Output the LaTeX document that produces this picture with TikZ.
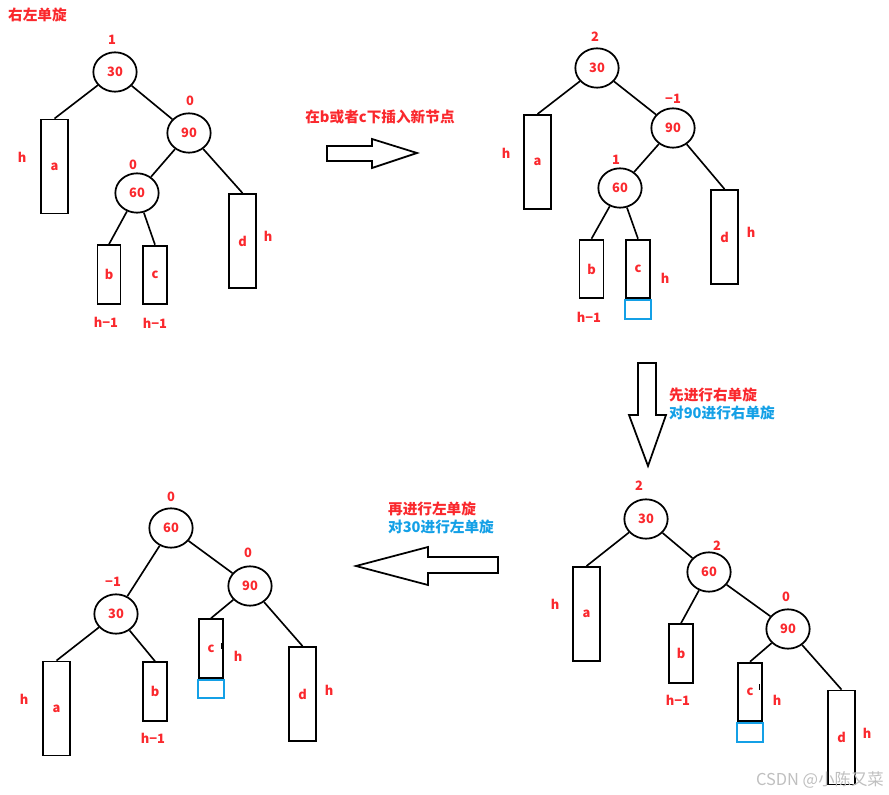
\documentclass[tikz,border=0pt]{standalone}
\usepackage{fontspec}
\setmainfont{Noto Sans CJK SC}
\usetikzlibrary{shapes.geometric}
\definecolor{mred}{RGB}{250,40,45}
\definecolor{mblue}{RGB}{20,160,230}
\tikzset{
  key/.style={ellipse,draw,line width=1.5pt,minimum width=1.3cm,minimum height=1.18cm,inner sep=0pt,text=mred,font=\fontsize{11}{13}\selectfont\bfseries},
  sub/.style={draw,line width=1.6pt,inner sep=0pt,text=mred,font=\fontsize{11}{13}\selectfont\bfseries},
  tall/.style={sub,minimum width=0.83cm,minimum height=2.82cm},
  short/.style={sub,minimum width=0.72cm,minimum height=1.76cm},
  ins/.style={draw=mblue,line width=1.5pt,minimum width=0.78cm,minimum height=0.56cm,inner sep=0pt,anchor=north},
  lab/.style={text=mred,font=\fontsize{11}{13}\selectfont\bfseries},
  note/.style={font=\fontsize{12.5}{15}\selectfont\bfseries,anchor=west},
  edge/.style={line width=1.4pt},
  blk/.style={draw,line width=1.5pt,line join=miter},
}
\begin{document}
\begin{tikzpicture}[x=0.03cm,y=-0.03cm]
\useasboundingbox (0,0) rectangle (889,795);
\node[note,text=mred] (title) at (4,15) {右左单旋};

% before insertion
\node[key] (A30) at (115,72) {30};
\node[key] (A90) at (189,133) {90};
\node[key] (A60) at (137,193) {60};
\node[tall] (Aa) at (54.5,166.5) {a};
\node[short,minimum width=0.69cm] (Ab) at (109,274.5) {b};
\node[short] (Ac) at (155,275) {c};
\node[tall] (Ad) at (242.5,241) {d};
\draw[edge] (A30) -- (Aa.north) (A30) -- (A90) (A90) -- (A60) (A90) -- (Ad.north)
  (A60) -- (Ab.north) (A60) -- (Ac.north);
\foreach \t/\x/\y [count=\i] in {1/112/40,0/190/101,0/133/165,h/22/157,h−1/106/322,h−1/155/323,h/268/236}
  \node[lab] (Al\i) at (\x,\y) {\t};

% insert
\node[note,anchor=center,text=mred] (step1) at (380,117) {在b或者c下插入新节点};
\draw[blk] (327,146) -- (372,146) -- (372,139) -- (417,153) -- (372,168) -- (372,161) -- (327,161) -- cycle;

% after insertion
\node[key] (B30) at (597,68) {30};
\node[key] (B90) at (673,128) {90};
\node[key] (B60) at (620,188) {60};
\node[tall] (Ba) at (537.5,162) {a};
\node[short] (Bb) at (591.5,269) {b};
\node[short] (Bc) at (638,269) {c};
\node[ins] (Bn) at (Bc.south) {};
\node[tall] (Bd) at (724.5,237) {d};
\draw[edge] (B30) -- (Ba.north) (B30) -- (B90) (B90) -- (B60) (B90) -- (Bd.north)
  (B60) -- (Bb.north) (B60) -- (Bc.north);
\foreach \t/\x/\y [count=\i] in {2/595/37,−1/673/99,1/616/160,h/506/153,h−1/589/317,h/665/278,h/751/232}
  \node[lab] (Bl\i) at (\x,\y) {\t};

% right rotation
\draw[blk] (638,363) -- (656,363) -- (656,415) -- (666,415) -- (648,466) -- (629,415) -- (638,415) -- cycle;
\node[note,text=mred] (step2) at (665,395) {先进行右单旋};
\node[note,text=mblue] (step2b) at (665,413) {对90进行右单旋};

% after right rotation
\node[key] (C30) at (646,519) {30};
\node[key] (C60) at (709,572) {60};
\node[key] (C90) at (788,629) {90};
\node[tall] (Ca) at (586.5,614) {a};
\node[short] (Cb) at (681,653.5) {b};
\node[short] (Cc) at (750,692) {c};
\node[ins] (Cn) at (Cc.south) {};
\node[tall] (Cd) at (841.5,737.5) {d};
\draw[edge] (C30) -- (Ca.north) (C30) -- (C60) (C60) -- (Cb.north) (C60) -- (C90)
  (C90) -- (Cc.north) (C90) -- (Cd.north);
\draw[thin] (759,684) -- (759,690);
\foreach \t/\x/\y [count=\i] in {2/639/486,2/717/546,0/786/597,h/555/604,h−1/678/700,h/777/700,h/867/733}
  \node[lab] (Cl\i) at (\x,\y) {\t};

% left rotation
\draw[blk] (498,557) -- (428,557) -- (428,547) -- (356,566) -- (428,585) -- (428,573) -- (498,573) -- cycle;
\node[note,text=mred] (step3) at (384,509) {再进行左单旋};
\node[note,text=mblue] (step3b) at (384,527) {对30进行左单旋};

% balanced
\node[key] (D60) at (171,528) {60};
\node[key] (D90) at (250,586) {90};
\node[key] (D30) at (116,614) {30};
\node[tall] (Da) at (56.5,708.5) {a};
\node[short] (Db) at (155,691.5) {b};
\node[short] (Dc) at (211,648.5) {c};
\node[ins] (Dn) at (Dc.south) {};
\node[tall] (Dd) at (302.5,694) {d};
\draw[edge] (D60) -- (D30) (D60) -- (D90) (D30) -- (Da.north) (D30) -- (Db.north)
  (D90) -- (Dc.north) (D90) -- (Dd.north);
\draw[thin] (221,643) -- (221,649);
\foreach \t/\x/\y [count=\i] in {0/171/497,0/248/553,−1/113/582,h/24/699,h−1/153/738,h/238/656,h/329/690}
  \node[lab] (Dl\i) at (\x,\y) {\t};

\node[anchor=east,text=black!25,font=\fontsize{14}{16}\selectfont] (mark) at (888,780) {CSDN @小陈又菜};
\end{tikzpicture}
\end{document}
